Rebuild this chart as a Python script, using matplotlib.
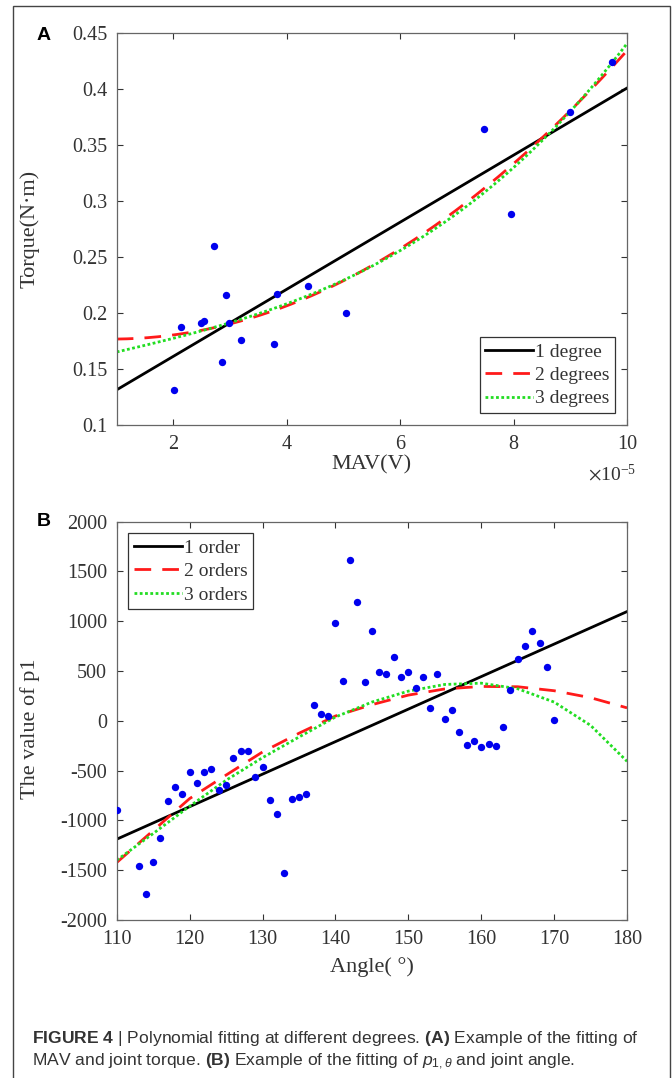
import numpy as np
import matplotlib
matplotlib.use("Agg")
import matplotlib.pyplot as plt
from matplotlib.patches import Rectangle

# panel A data: MAV (x 1e-5 V) vs torque (N*m)
mav = [2.01, 2.13, 2.49, 2.54, 2.71, 2.86, 2.92, 2.98, 3.19, 3.78, 3.83,
       4.37, 5.05, 7.47, 7.96, 9.0, 9.74]
torque = [0.131, 0.187, 0.191, 0.193, 0.260, 0.156, 0.216, 0.191, 0.176,
          0.172, 0.217, 0.224, 0.200, 0.364, 0.288, 0.379, 0.424]

# panel B data: angle (deg) vs p1
angle = [110] + list(range(113, 171))
p1 = [-900, -1457, -1738, -1417, -1179, -801, -660, -734, -513, -620, -513,
      -480, -694, -640, -369, -302, -302, -566, -466, -794, -935, -1524,
      -784, -761, -737, 160, 70, 50, 983, 404, 1616, 1197, 394, 906, 491,
      468, 642, 444, 491, 330, 441, 130, 474, 19, 109, -108, -239, -202,
      -262, -229, -249, -64, 313, 622, 755, 903, 779, 538, 6]

# panel B fitted curves
fit1_angle = [110, 180]
fit1 = [-1189, 1097]
fit_angle = [110, 115, 120, 125, 130, 135, 140, 145, 150, 155, 160, 165,
             170, 175, 180]
fit2 = [-1423, -1102, -781, -545, -313, -125, 48, 162, 258, 320, 345, 342,
        302, 232, 130]
fit3 = [-1400, -1132, -858, -597, -370, -163, 38, 188, 298, 365, 378, 322,
        188, -46, -407]

serif = ["Liberation Serif", "DejaVu Serif"]
plt.rcParams["font.family"] = serif
plt.rcParams["mathtext.fontset"] = "stix"
plt.rcParams["axes.unicode_minus"] = False

line_styles = [dict(color="black", ls="-"),
               dict(color="#ff1a1a", ls=(0, (6, 4))),
               dict(color="#22dd22", ls=(0, (1.0, 0.9)))]
txt_col = "#333333"

fig = plt.figure(figsize=(6.72, 10.78), dpi=100)


def style_axes(ax):
    ax.tick_params(direction="in", top=True, right=True, labelsize=14.5,
                   colors=txt_col, length=4, width=0.8, pad=7)
    for s in ax.spines.values():
        s.set_color("#666666")
        s.set_linewidth(0.9)


def add_legend(ax, loc):
    leg = ax.legend(loc=loc, fontsize=14, handlelength=2.45,
                    handletextpad=0.1, borderpad=0.3, labelspacing=0.3,
                    fancybox=False, framealpha=1, borderaxespad=0.6)
    leg.get_frame().set_edgecolor(txt_col)
    leg.get_frame().set_linewidth(0.9)
    for t in leg.get_texts():
        t.set_color(txt_col)


# panel A
axA = fig.add_axes([0.1737, 0.6058, 0.7594, 0.3639])
axA.plot(mav, torque, "o", color="#0000ee", ms=5.3, mec="none", zorder=5)
xa = np.linspace(1, 10, 200)
for deg, st, lab in zip([1, 2, 3], line_styles,
                        ["1 degree", "2 degrees", "3 degrees"]):
    coef = np.polyfit(mav, torque, deg)
    axA.plot(xa, np.polyval(coef, xa), lw=2.0, label=lab, **st)
axA.set_xlim(1, 10)
axA.set_ylim(0.1, 0.45)
axA.set_xticks([2, 4, 6, 8, 10])
axA.set_yticks(np.arange(0.1, 0.451, 0.05))
axA.set_yticklabels(["0.1", "0.15", "0.2", "0.25", "0.3", "0.35", "0.4", "0.45"])
style_axes(axA)
axA.set_xlabel("MAV(V)", fontsize=16, color=txt_col, va="center")
axA.xaxis.set_label_coords(0.5, -0.102)
axA.set_ylabel("Torque(N·m)", fontsize=16, color=txt_col, va="center")
axA.yaxis.set_label_coords(-0.17, 0.5)
axA.text(0.97, -0.125, r"$\times\mathregular{10^{-5}}$", transform=axA.transAxes,
         ha="center", va="center", fontsize=14, color=txt_col)
add_legend(axA, "lower right")

# panel B
axB = fig.add_axes([0.1737, 0.1466, 0.7594, 0.3695])
axB.plot(angle, p1, "o", color="#0000ee", ms=5.3, mec="none", zorder=5)
axB.plot(fit1_angle, fit1, lw=2.0, label="1 order", **line_styles[0])
axB.plot(fit_angle, fit2, lw=2.0, label="2 orders", **line_styles[1])
axB.plot(fit_angle, fit3, lw=2.0, label="3 orders", **line_styles[2])
axB.set_xlim(110, 180)
axB.set_ylim(-2000, 2000)
axB.set_xticks(range(110, 181, 10))
axB.set_yticks(range(-2000, 2001, 500))
style_axes(axB)
axB.set_xlabel("Angle( °)", fontsize=16, color=txt_col, va="center")
axB.xaxis.set_label_coords(0.5, -0.118)
axB.set_ylabel("The value of p1", fontsize=16, color=txt_col, va="center")
axB.yaxis.set_label_coords(-0.17, 0.48)
add_legend(axB, "upper left")

# panel letters
sans = ["Liberation Sans", "DejaVu Sans"]
fig.text(37 / 672, 1 - 35 / 1078, "A", fontsize=14, fontweight="bold",
         family=sans, ha="left", va="center")
fig.text(37 / 672, 1 - 522 / 1078, "B", fontsize=14, fontweight="bold",
         family=sans, ha="left", va="center")

# caption
cap1 = (r"$\bf{FIGURE\ 4}$ | Polynomial fitting at different degrees. "
        r"$\bf{(A)}$ Example of the fitting of")
cap2 = (r"MAV and joint torque. $\bf{(B)}$ Example of the fitting of "
        r"$\it{p}_{1,\theta}$ and joint angle.")
plt.rcParams["mathtext.fontset"] = "custom"
plt.rcParams["mathtext.rm"] = "Liberation Sans"
plt.rcParams["mathtext.bf"] = "Liberation Sans:bold"
plt.rcParams["mathtext.it"] = "Liberation Sans:italic"
fig.text(32 / 672, 1 - 1038 / 1078, cap1, fontsize=12.6, family=sans,
         color="#333333", ha="left", va="center")
fig.text(32 / 672, 1 - 1062 / 1078, cap2, fontsize=12.6, family=sans,
         color="#333333", ha="left", va="center")

# outer frame
fig.patches.append(Rectangle((13 / 672, -0.01), (670 - 13) / 672,
                             1 - 6 / 1078 + 0.01, transform=fig.transFigure,
                             fill=False, edgecolor="#444444", lw=1.0))

fig.savefig("out.png", dpi=100)
